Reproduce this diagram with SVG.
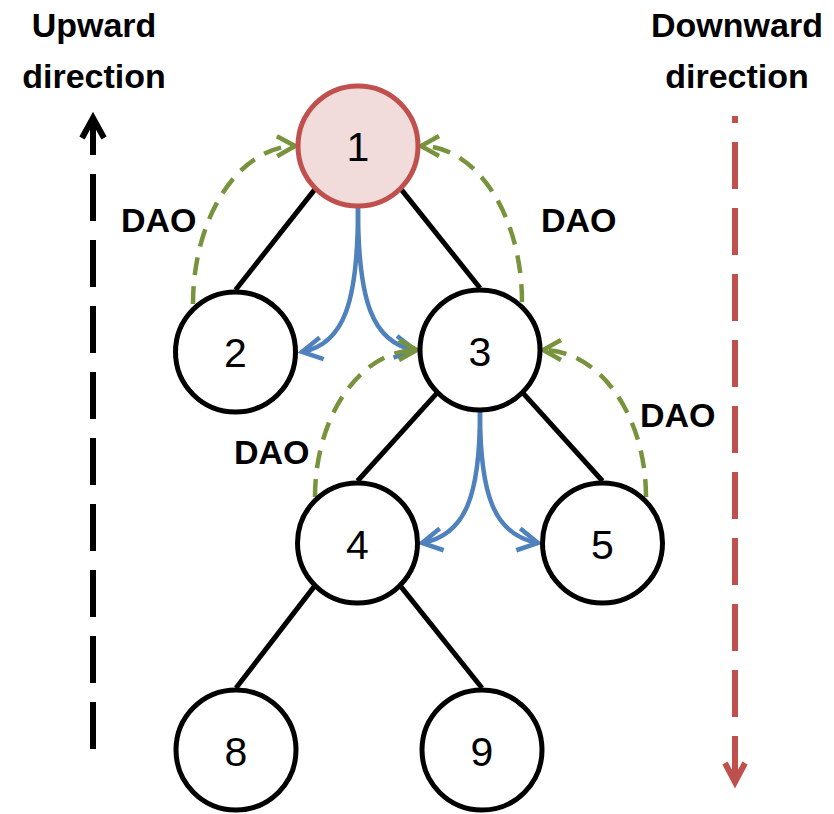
<svg xmlns="http://www.w3.org/2000/svg" width="834" height="814" viewBox="0 0 834 814">
<style>
.node{fill:#fff;stroke:#000;stroke-width:5}
.root{fill:#F2DCDB;stroke:#C0504D;stroke-width:5}
.lbl{font-family:"Liberation Sans",Arial,sans-serif;font-size:41px;text-anchor:middle;fill:#000}
.bold{font-family:"Liberation Sans",Arial,sans-serif;font-weight:bold;font-size:34px;fill:#000}
.edge{stroke:#000;stroke-width:5;fill:none}
.down{stroke:#4F81BD;stroke-width:4.5;fill:none;marker-end:url(#blueHead)}
.dao{stroke:#77933C;stroke-width:4.5;fill:none;stroke-dasharray:18 11;marker-end:url(#greenHead)}
</style>
<defs>
<marker id="blueHead" markerUnits="userSpaceOnUse" viewBox="-24 -14 28 28" markerWidth="28" markerHeight="28" refX="0" refY="0" orient="auto">
<path d="M-20,-11 L0,0 L-20,11" fill="none" stroke="#4F81BD" stroke-width="4.5" stroke-dasharray="none"/>
</marker>
<marker id="greenHead" markerUnits="userSpaceOnUse" viewBox="-24 -14 28 28" markerWidth="28" markerHeight="28" refX="0" refY="0" orient="auto">
<path d="M-18,-10 L0,0 L-18,10" fill="none" stroke="#77933C" stroke-width="4.5" stroke-dasharray="none"/>
</marker>
</defs>

<g id="titles">
<text class="bold" x="94" y="37" text-anchor="middle">Upward</text>
<text class="bold" x="94" y="88" text-anchor="middle">direction</text>
<text class="bold" x="737" y="37" text-anchor="middle">Downward</text>
<text class="bold" x="737" y="88" text-anchor="middle">direction</text>
</g>

<g id="upward-arrow">
<path d="M93,749 L93,120" stroke="#000" stroke-width="6" fill="none" stroke-dasharray="47 19"/>
<path d="M82,138 L93,118 L104,138" stroke="#000" stroke-width="6" fill="none" stroke-linejoin="miter"/>
</g>

<g id="downward-arrow">
<path d="M735,116 L735,782" stroke="#C0504D" stroke-width="6" fill="none" stroke-dasharray="47 19" stroke-dashoffset="40"/>
<path d="M725,763 L735,782 L745,763" stroke="#C0504D" stroke-width="6" fill="none" stroke-linejoin="miter"/>
</g>

<g id="connectors">
<line class="edge" x1="315.6" y1="188.4" x2="235.5" y2="290"/>
<line class="edge" x1="400.4" y1="188.4" x2="480" y2="288"/>
<line class="edge" x1="437.6" y1="392.4" x2="357.5" y2="481"/>
<line class="edge" x1="522.4" y1="392.4" x2="602.5" y2="481"/>
<line class="edge" x1="315.1" y1="585.4" x2="236" y2="688"/>
<line class="edge" x1="399.9" y1="585.4" x2="482" y2="688"/>

<path class="down" d="M358,208 C358,300 345,344 302,352"/>
<path class="down" d="M358,208 C358,300 372,343 415,350"/>
<path class="down" d="M480,412 C480,495 466,535 422,543"/>
<path class="down" d="M480,412 C480,495 494,535 538,543"/>

<path class="dao" d="M193,304 A103,158 0 0 1 295,146"/>
<path class="dao" d="M522,302 A101,156 0 0 0 421,146"/>
<path class="dao" d="M315,497 A102,147 0 0 1 417,350"/>
<path class="dao" d="M646,497 A103,147 0 0 0 543,350"/>
</g>

<g id="dao-labels">
<text class="bold" x="121" y="232">DAO</text>
<text class="bold" x="541" y="232">DAO</text>
<text class="bold" x="234" y="464">DAO</text>
<text class="bold" x="640" y="427">DAO</text>
</g>

<g id="node1"><circle class="root" cx="358" cy="146" r="60"/><text class="lbl" x="358" y="161">1</text></g>
<g id="node2"><circle class="node" cx="235.5" cy="352" r="60"/><text class="lbl" x="235.5" y="367">2</text></g>
<g id="node3"><circle class="node" cx="480" cy="350" r="60"/><text class="lbl" x="480" y="366">3</text></g>
<g id="node4"><circle class="node" cx="357.5" cy="543" r="60"/><text class="lbl" x="357.5" y="559">4</text></g>
<g id="node5"><circle class="node" cx="602.5" cy="543" r="60"/><text class="lbl" x="602.5" y="559">5</text></g>
<g id="node8"><circle class="node" cx="236" cy="750" r="60"/><text class="lbl" x="236" y="766">8</text></g>
<g id="node9"><circle class="node" cx="482" cy="750" r="60"/><text class="lbl" x="482" y="766">9</text></g>
</svg>
